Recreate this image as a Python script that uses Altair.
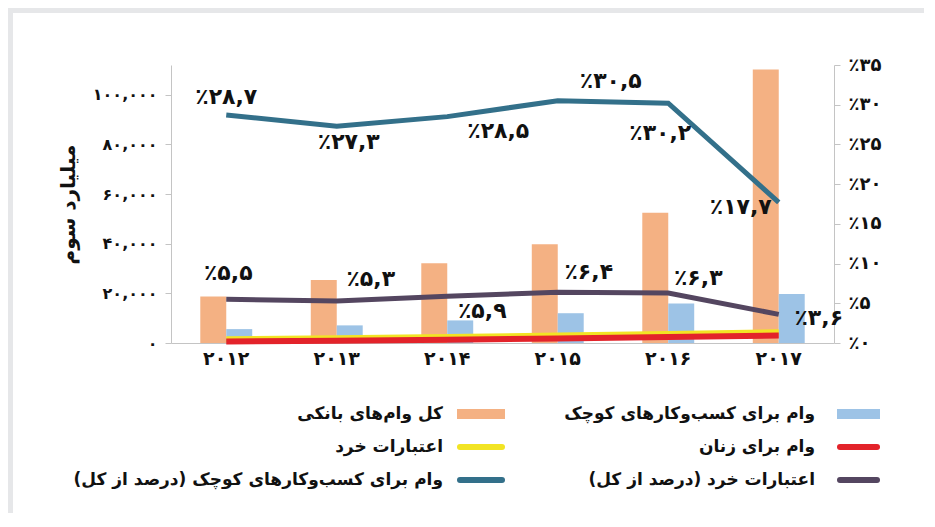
import altair as alt
import pandas as pd

# ---------------- data ----------------
years = ["2012", "2013", "2014", "2015", "2016", "2017"]
total_loans = [18700, 25400, 32100, 39800, 52500, 110200]
sme_loans = [5600, 7100, 9100, 12000, 15900, 19700]
microcredit = [1500, 1900, 2400, 3000, 3600, 4300]
women_loans = [600, 900, 1300, 1800, 2400, 3000]
sme_share = [28.7, 27.3, 28.5, 30.5, 30.2, 17.7]
micro_share = [5.5, 5.3, 5.9, 6.4, 6.3, 3.6]

left_ticks = [0, 20000, 40000, 60000, 80000, 100000]
right_ticks = [0, 5, 10, 15, 20, 25, 30, 35]

series_names = {
    "total": "کل وام‌های بانکی",
    "sme": "وام برای کسب‌وکارهای کوچک",
    "micro": "اعتبارات خرد",
    "women": "وام برای زنان",
    "micro_share": "اعتبارات خرد (درصد از کل)",
    "sme_share": "وام برای کسب‌وکارهای کوچک (درصد از کل)",
}

FA = str.maketrans("0123456789.", "۰۱۲۳۴۵۶۷۸۹,")


def fa(s):
    return str(s).translate(FA)


def pct(v):
    return "٪" + fa(v)


def ternary(vals, labels):
    expr = "''"
    for v, l in reversed(list(zip(vals, labels))):
        expr = f"datum.value == {v!r} ? '{l}' : " + expr
    return expr


year_expr = ternary(years, [fa(y) for y in years])
left_expr = ternary(left_ticks, [fa(f"{v:,}") for v in left_ticks])
right_expr = ternary(right_ticks, [pct(v) for v in right_ticks])

# ---------------- style ----------------
FONT = "DejaVu Sans"
C_TOTAL = "#f4b183"
C_SME = "#9dc3e6"
C_MICRO = "#f2e424"
C_WOMEN = "#e3232a"
C_SME_SH = "#33708a"
C_MICRO_SH = "#544660"

W, H = 663, 278

bars_df = pd.DataFrame(
    [{"year": y, "series": "total", "value": v} for y, v in zip(years, total_loans)]
    + [{"year": y, "series": "sme", "value": v} for y, v in zip(years, sme_loans)]
)
micro_df = pd.DataFrame({"year": years, "value": microcredit})
women_df = pd.DataFrame({"year": years, "value": women_loans})
sme_sh_df = pd.DataFrame({"year": years, "pct": sme_share, "label": [pct(v) for v in sme_share]})
micro_sh_df = pd.DataFrame({"year": years, "pct": micro_share, "label": [pct(v) for v in micro_share]})

x_enc = alt.X(
    "year:N",
    scale=alt.Scale(domain=years, paddingInner=0.53, paddingOuter=0.265),
    axis=alt.Axis(
        title=None, labelAngle=0, ticks=False, labelExpr=year_expr,
        labelFontSize=19, labelPadding=6, domainColor="#c4c4c4",
    ),
)

left_axis = alt.Axis(
    values=left_ticks, labelExpr=left_expr, title="میلیارد سوم", orient="left",
    titleFontSize=20, titlePadding=14, titleFont=FONT, titleFontWeight="bold",
    labelFontSize=16, tickSize=6, labelPadding=8, domainColor="#c4c4c4", tickColor="#c4c4c4",
)
left_scale = alt.Scale(domain=[0, 112000], nice=False)

right_axis = alt.Axis(
    values=right_ticks, labelExpr=right_expr, title=None, orient="right",
    labelFontSize=18, tickSize=6, labelPadding=8, domainColor="#c4c4c4", tickColor="#c4c4c4",
)
right_scale = alt.Scale(domain=[0, 35], nice=False)

bars = alt.Chart(bars_df).mark_bar().encode(
    x=x_enc,
    xOffset=alt.XOffset("series:N", scale=alt.Scale(domain=["total", "sme"], paddingInner=0, paddingOuter=0)),
    y=alt.Y("value:Q", scale=left_scale, axis=left_axis),
    color=alt.Color("series:N", scale=alt.Scale(domain=["total", "sme"], range=[C_TOTAL, C_SME]), legend=None),
)
micro_line = alt.Chart(micro_df).mark_line(color=C_MICRO, strokeWidth=6).encode(
    x=x_enc, y=alt.Y("value:Q", scale=left_scale, axis=left_axis)
)
women_line = alt.Chart(women_df).mark_line(color=C_WOMEN, strokeWidth=6).encode(
    x=x_enc, y=alt.Y("value:Q", scale=left_scale, axis=left_axis)
)
left_layer = alt.layer(bars, micro_line, women_line)

micro_sh_line = alt.Chart(micro_sh_df).mark_line(color=C_MICRO_SH, strokeWidth=5).encode(
    x=x_enc, y=alt.Y("pct:Q", scale=right_scale, axis=right_axis)
)
sme_sh_line = alt.Chart(sme_sh_df).mark_line(color=C_SME_SH, strokeWidth=5).encode(
    x=x_enc, y=alt.Y("pct:Q", scale=right_scale, axis=right_axis)
)

sme_offsets = [(0, -18), (12, 16), (51, 14), (53, -20), (-8, 30), (-38, 5)]
micro_offsets = [(2, -26), (34, -22), (35, 15), (31, -20), (30, -15), (40, 4)]

label_layers = []
for df, offs in ((sme_sh_df, sme_offsets), (micro_sh_df, micro_offsets)):
    for i, (dx, dy) in enumerate(offs):
        label_layers.append(
            alt.Chart(df.iloc[[i]]).mark_text(
                font=FONT, fontWeight="bold", fontSize=22, color="#111",
                dx=dx, dy=dy, align="center", baseline="middle",
            ).encode(x=x_enc, y=alt.Y("pct:Q", scale=right_scale, axis=right_axis), text="label:N")
        )

right_layer = alt.layer(micro_sh_line, sme_sh_line, *label_layers)

# ---------------- legend (custom, right-to-left) ----------------
legend_items = [
    ("sme", "rect", C_SME, 1, 0),
    ("total", "rect", C_TOTAL, 0, 0),
    ("women", "line", C_WOMEN, 1, 1),
    ("micro", "line", C_MICRO, 0, 1),
    ("micro_share", "line", C_MICRO_SH, 1, 2),
    ("sme_share", "line", C_SME_SH, 0, 2),
]
col_sym = {1: (666, 709), 0: (286, 334)}
col_text = {1: 644, 0: 272}
row_y = [349, 382, 415]

legend_layers = []
for key, kind, color, col, row in legend_items:
    x1, x2 = col_sym[col]
    y = row_y[row]
    one = alt.Data(values=[{"label": series_names[key]}])
    if kind == "rect":
        legend_layers.append(
            alt.Chart(one).mark_rect(color=color).encode(
                x=alt.value(x1), x2=alt.value(x2), y=alt.value(y - 5), y2=alt.value(y + 5)
            )
        )
    else:
        legend_layers.append(
            alt.Chart(one).mark_rule(color=color, strokeWidth=6, strokeCap="round").encode(
                x=alt.value(x1 + 3), x2=alt.value(x2 - 3), y=alt.value(y)
            )
        )
    legend_layers.append(
        alt.Chart(one).mark_text(
            font=FONT, fontWeight="bold", fontSize=17, color="#111", align="right", baseline="middle"
        ).encode(x=alt.value(col_text[col]), y=alt.value(y), text="label:N")
    )

# frame strips (left and top, light grey)
frame_data = alt.Data(values=[{"f": 1}])
frame = [
    alt.Chart(frame_data).mark_rect(color="#e6e7e9").encode(
        x=alt.value(-163), x2=alt.value(-158), y=alt.value(-57), y2=alt.value(450)
    ),
    alt.Chart(frame_data).mark_rect(color="#e6e7e9").encode(
        x=alt.value(-163), x2=alt.value(770), y=alt.value(-57), y2=alt.value(-52)
    ),
]

chart = (
    alt.layer(left_layer, right_layer, *legend_layers, *frame)
    .resolve_scale(y="independent")
    .properties(
        width=W, height=H,
        autosize=alt.AutoSizeParams(type="none"),
        padding={"left": 163, "top": 57, "right": 90, "bottom": 170},
        background="white",
    )
    .configure_axis(
        labelFont=FONT, labelFontWeight="bold", labelColor="#111", grid=False,
        titleColor="#111",
    )
    .configure_view(strokeWidth=0)
)

chart.save("out.html", embed_options={"renderer": "svg", "actions": False})
